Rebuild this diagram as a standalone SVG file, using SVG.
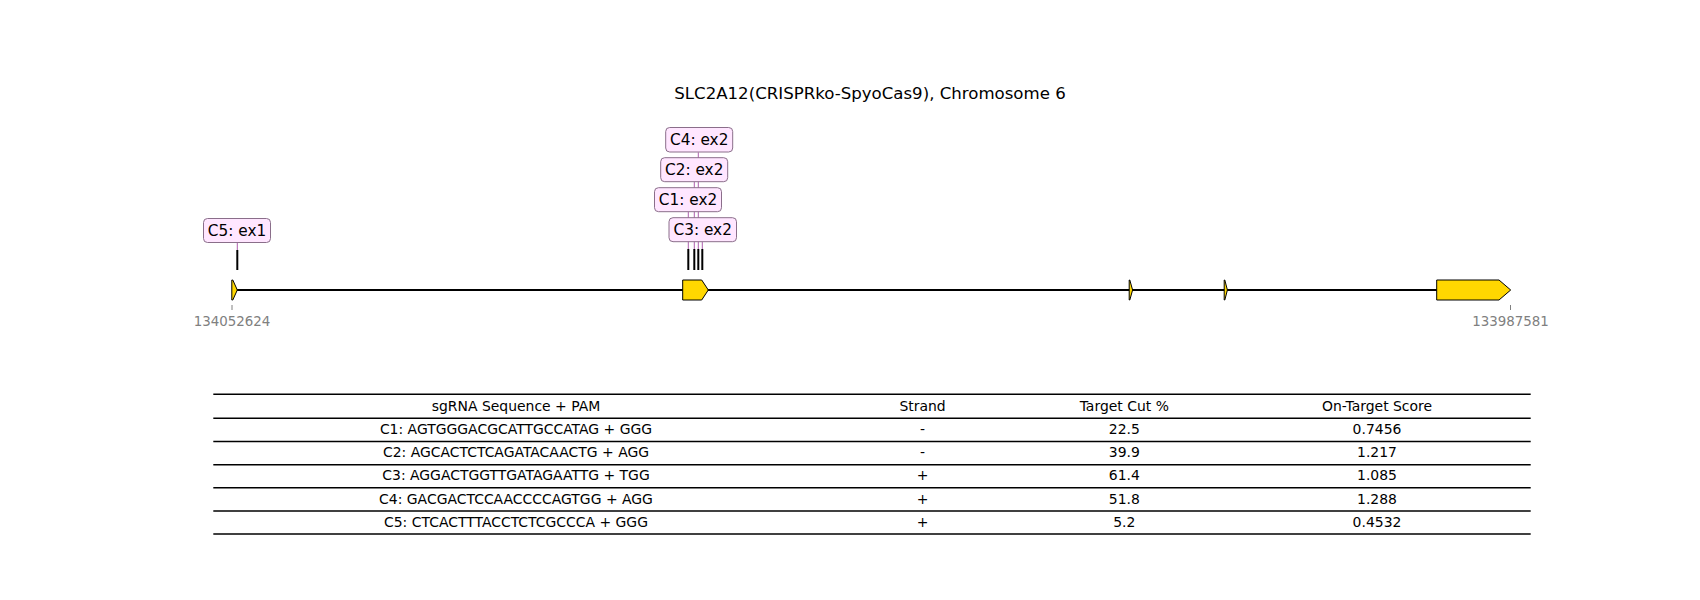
<svg xmlns="http://www.w3.org/2000/svg" width="1700" height="600" viewBox="0 0 1700 600">
  <style>
    text { font-family: "DejaVu Sans", "Liberation Sans", sans-serif; fill: #000; }
    .title { font-size: 16.6px; text-anchor: middle; }
    .coord { font-size: 13.4px; fill: #808080; text-anchor: middle; }
    .tick { stroke: #808080; stroke-width: 1; }
    .backbone { stroke: #000; stroke-width: 2; fill: none; }
    .exon { fill: #ffd700; stroke: #000; stroke-width: 1; stroke-linejoin: miter; }
    .cut { stroke: #000; stroke-width: 2; }
    .leader { stroke: #800080; stroke-width: 0.8; opacity: 0.8; }
    .tag rect { fill: #ffe6ff; stroke: #8a6e8a; stroke-width: 1; }
    .tag text { font-size: 15.3px; text-anchor: middle; }
    .rule { stroke: #000; stroke-width: 1.6; }
    .cell { font-size: 13.95px; text-anchor: middle; }
  </style>

  <!-- Title -->
  <text class="title" x="870" y="99">SLC2A12(CRISPRko-SpyoCas9), Chromosome 6</text>

  <!-- Gene backbone and exons -->
  <g id="gene">
    <line class="backbone" x1="233" y1="290" x2="1437" y2="290"/>
    <polygon id="exon1" class="exon" points="231.8,280 232.8,280 237.3,290 232.8,300 231.8,300"/>
    <polygon id="exon2" class="exon" points="682.7,280 701.7,280 708.3,290 701.7,300 682.7,300"/>
    <polygon id="exon3" class="exon" points="1129.2,280 1129.8,280 1132.6,290 1129.8,300 1129.2,300"/>
    <polygon id="exon4" class="exon" points="1224.2,280 1224.8,280 1227.4,290 1224.8,300 1224.2,300"/>
    <polygon id="exon5" class="exon" points="1436.7,280 1499,280 1510.7,290 1499,300 1436.7,300"/>
  </g>

  <!-- Coordinate ticks -->
  <g id="coords">
    <line class="tick" x1="232" y1="305" x2="232" y2="310"/>
    <text class="coord" x="232" y="326">134052624</text>
    <line class="tick" x1="1510.5" y1="305" x2="1510.5" y2="310"/>
    <text class="coord" x="1510.5" y="326">133987581</text>
  </g>

  <!-- Cut sites and leader lines -->
  <g id="connectors">
    <line class="leader" x1="237.3" y1="242.3" x2="237.3" y2="250"/>
    <line class="leader" x1="688.3" y1="211.7" x2="688.3" y2="249"/>
    <line class="leader" x1="694.3" y1="181.7" x2="694.3" y2="249"/>
    <line class="leader" x1="698.3" y1="152.3" x2="698.3" y2="249"/>
    <line class="leader" x1="702.3" y1="241.7" x2="702.3" y2="249"/>
    <line class="cut" x1="237.3" y1="250" x2="237.3" y2="270"/>
    <line class="cut" x1="688.3" y1="249" x2="688.3" y2="270"/>
    <line class="cut" x1="694.3" y1="249" x2="694.3" y2="270"/>
    <line class="cut" x1="698.3" y1="249" x2="698.3" y2="270"/>
    <line class="cut" x1="702.3" y1="249" x2="702.3" y2="270"/>
  </g>

  <!-- Guide labels -->
  <g id="C5" class="tag">
    <rect x="203.5" y="218.5" width="67" height="24" rx="4"/>
    <text x="237" y="235.8">C5: ex1</text>
  </g>
  <g id="C4" class="tag">
    <rect x="665.7" y="127.5" width="67" height="24.5" rx="4"/>
    <text x="699.2" y="145.2">C4: ex2</text>
  </g>
  <g id="C2" class="tag">
    <rect x="660.7" y="157.7" width="67" height="24" rx="4"/>
    <text x="694.2" y="175">C2: ex2</text>
  </g>
  <g id="C1" class="tag">
    <rect x="654.5" y="187.7" width="67" height="24" rx="4"/>
    <text x="688" y="205">C1: ex2</text>
  </g>
  <g id="C3" class="tag">
    <rect x="669" y="217.7" width="67.5" height="24" rx="4"/>
    <text x="702.7" y="235">C3: ex2</text>
  </g>

  <!-- Guide table -->
  <g id="table">
    <line class="rule" x1="213.3" y1="394.3" x2="1530.7" y2="394.3"/>
    <line class="rule" x1="213.3" y1="418.3" x2="1530.7" y2="418.3"/>
    <line class="rule" x1="213.3" y1="441.5" x2="1530.7" y2="441.5"/>
    <line class="rule" x1="213.3" y1="464.7" x2="1530.7" y2="464.7"/>
    <line class="rule" x1="213.3" y1="487.7" x2="1530.7" y2="487.7"/>
    <line class="rule" x1="213.3" y1="511" x2="1530.7" y2="511"/>
    <line class="rule" x1="213.3" y1="534" x2="1530.7" y2="534"/>

    <text class="cell" x="516" y="410.8">sgRNA Sequence + PAM</text>
    <text class="cell" x="922.6" y="410.8">Strand</text>
    <text class="cell" x="1124.3" y="410.8">Target Cut %</text>
    <text class="cell" x="1377" y="410.8">On-Target Score</text>

    <text class="cell" x="516" y="434.2">C1: AGTGGGACGCATTGCCATAG + GGG</text>
    <text class="cell" x="922.6" y="434.2">-</text>
    <text class="cell" x="1124.3" y="434.2">22.5</text>
    <text class="cell" x="1377" y="434.2">0.7456</text>

    <text class="cell" x="516" y="457.4">C2: AGCACTCTCAGATACAACTG + AGG</text>
    <text class="cell" x="922.6" y="457.4">-</text>
    <text class="cell" x="1124.3" y="457.4">39.9</text>
    <text class="cell" x="1377" y="457.4">1.217</text>

    <text class="cell" x="516" y="480.4">C3: AGGACTGGTTGATAGAATTG + TGG</text>
    <text class="cell" x="922.6" y="480.4">+</text>
    <text class="cell" x="1124.3" y="480.4">61.4</text>
    <text class="cell" x="1377" y="480.4">1.085</text>

    <text class="cell" x="516" y="503.6">C4: GACGACTCCAACCCCAGTGG + AGG</text>
    <text class="cell" x="922.6" y="503.6">+</text>
    <text class="cell" x="1124.3" y="503.6">51.8</text>
    <text class="cell" x="1377" y="503.6">1.288</text>

    <text class="cell" x="516" y="526.7">C5: CTCACTTTACCTCTCGCCCA + GGG</text>
    <text class="cell" x="922.6" y="526.7">+</text>
    <text class="cell" x="1124.3" y="526.7">5.2</text>
    <text class="cell" x="1377" y="526.7">0.4532</text>
  </g>
</svg>
